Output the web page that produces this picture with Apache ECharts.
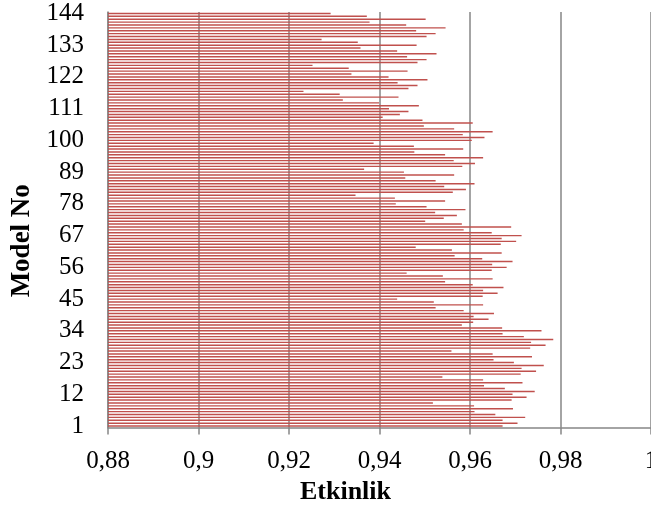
<!DOCTYPE html>
<html>
<head>
<meta charset="utf-8">
<script src="https://cdn.jsdelivr.net/npm/echarts@6/dist/echarts.min.js"></script>
<style>
	html, body { margin: 0; padding: 0; background: #fff; }
	#chart { width: 651px; height: 506px; }
</style>
</head>
<body>
<div id="chart"></div>
<script>
	// etkinlik degerleri, model 1 -> 144
	var etkinlik = [
		0.9672, 0.9705, 0.9672, 0.9722, 0.9656, 0.9610, 0.9695, 0.9609, 0.9518,
		0.9692, 0.9725, 0.9694, 0.9743, 0.9677, 0.9631, 0.9716, 0.9629, 0.9539,
		0.9712, 0.9746, 0.9714, 0.9763, 0.9697, 0.9652, 0.9737, 0.9650, 0.9559,
		0.9733, 0.9767, 0.9735, 0.9784, 0.9719, 0.9672, 0.9758, 0.9671, 0.9582,
		0.9607, 0.9641, 0.9608, 0.9653, 0.9586, 0.9524, 0.9629, 0.9520, 0.9439,
		0.9628, 0.9661, 0.9629, 0.9674, 0.9606, 0.9545, 0.9650, 0.9540, 0.9460,
		0.9648, 0.9681, 0.9649, 0.9694, 0.9627, 0.9566, 0.9670, 0.9560, 0.9480,
		0.9668, 0.9702, 0.9670, 0.9714, 0.9648, 0.9586, 0.9691, 0.9582, 0.9501,
		0.9542, 0.9571, 0.9523, 0.9590, 0.9504, 0.9436, 0.9545, 0.9434, 0.9347,
		0.9562, 0.9591, 0.9543, 0.9610, 0.9524, 0.9457, 0.9565, 0.9454, 0.9366,
		0.9583, 0.9611, 0.9564, 0.9629, 0.9545, 0.9477, 0.9585, 0.9476, 0.9387,
		0.9604, 0.9632, 0.9584, 0.9650, 0.9565, 0.9498, 0.9606, 0.9495, 0.9407,
		0.9445, 0.9464, 0.9421, 0.9487, 0.9399, 0.9319, 0.9442, 0.9312, 0.9232,
		0.9464, 0.9484, 0.9440, 0.9506, 0.9420, 0.9338, 0.9462, 0.9332, 0.9252,
		0.9484, 0.9504, 0.9461, 0.9526, 0.9439, 0.9358, 0.9482, 0.9352, 0.9272,
		0.9504, 0.9524, 0.9481, 0.9546, 0.9459, 0.9378, 0.9502, 0.9372, 0.9292
	];
	// model numaralari
	var modelNo = [];
	for (var i = 1; i <= etkinlik.length; i++) modelNo.push(String(i));

	var xMin = 0.88, xMax = 1, xStep = 0.02;
	var serif = 'Liberation Serif';
	var gri = '#868686';

	var chart = echarts.init(document.getElementById('chart'));
	var option = {
		animation: false,
		grid: {
			left: 108,
			right: 0,
			top: 12,
			bottom: 78.5,
			containLabel: false,
			outerBoundsMode: 'none'
		},
		xAxis: {
			type: 'value',
			min: xMin,
			max: xMax,
			interval: xStep,
			name: 'Etkinlik',
			nameLocation: 'middle',
			nameGap: 52,
			nameTextStyle: {
				fontFamily: serif,
				fontWeight: 'bold',
				fontSize: 26,
				color: '#000',
				padding: [0, 68, 0, 0]
			},
			axisLine: { show: true, lineStyle: { color: gri, width: 1.5 } },
			axisTick: { show: true, length: 7, lineStyle: { color: gri, width: 1.5 } },
			splitLine: { show: true, lineStyle: { color: gri, width: 1.5 } },
			axisLabel: {
				fontFamily: serif,
				fontSize: 25,
				color: '#000',
				margin: 21,
				formatter: function (v) {
					return String(Math.round(v * 100) / 100).replace('.', ',');
				}
			}
		},
		yAxis: {
			type: 'category',
			data: modelNo,
			name: 'Model No',
			nameLocation: 'middle',
			nameGap: 72,
			nameRotate: 90,
			nameTextStyle: {
				fontFamily: serif,
				fontWeight: 'bold',
				fontSize: 27,
				color: '#000',
				padding: [0, 42, 0, 0]
			},
			axisLine: { show: true, lineStyle: { color: gri, width: 1.5 } },
			axisTick: { show: false },
			splitLine: { show: false },
			axisLabel: {
				interval: 10,
				fontFamily: serif,
				fontSize: 25,
				color: '#000',
				margin: 24
			}
		},
		series: [{
			type: 'bar',
			data: etkinlik,
			barWidth: '50%',
			clip: true,
			itemStyle: { color: '#C0504D' }
		}]
	};
	chart.setOption(option);
</script>
</body>
</html>
